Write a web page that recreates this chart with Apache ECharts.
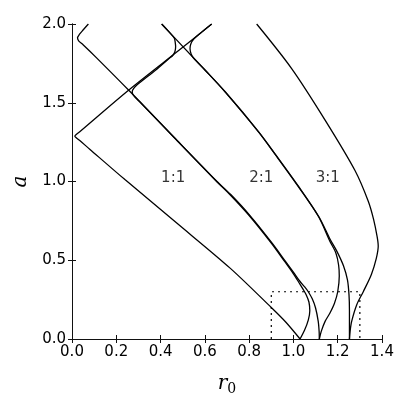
<!DOCTYPE html>
<html>
<head>
<meta charset="utf-8">
<script src="https://cdn.jsdelivr.net/npm/echarts@6/dist/echarts.min.js"></script>
<style>
  html, body { margin: 0; padding: 0; background: #fff; }
  #tongues { width: 409px; height: 409px; }
</style>
</head>
<body>
<div id="tongues"></div>
<script>
  // tongue boundaries, [r0, a]
  let left11 = [[1.030,0],[0.965,0.108],[0.90,0.20],[0.714,0.45],[0.473,0.736],
    [0.239,1.012],[0.08,1.205],[0.035,1.26],[0.018,1.279],[0.013,1.288],[0.018,1.297],[0.035,1.316],
    [0.254,1.578],[0.503,1.855],[0.631,2.0]]
  let right11 = [[1.030,0],[1.050,0.055],[1.067,0.12],[1.074,0.18],[1.070,0.235],[1.058,0.28],[1.044,0.315],
    [1.030,0.347],[1.0,0.414],[0.962,0.489],[0.90,0.609],[0.80,0.784],[0.714,0.916],[0.653,1.0],[0.461,1.279],
    [0.31,1.50],[0.285,1.535],[0.274,1.556],[0.272,1.572],[0.278,1.59],[0.293,1.612],[0.38,1.71],[0.437,1.78],
    [0.455,1.80],[0.465,1.825],[0.468,1.855],[0.466,1.885],[0.462,1.91],[0.44,1.947],[0.405,2.0]]
  let left21 = [[1.117,0],[1.116,0.05],[1.112,0.112],[1.10,0.197],[1.085,0.255],[1.067,0.30],[1.05,0.332],
    [1.03,0.365],[1.003,0.418],[0.965,0.491],[0.903,0.61],[0.803,0.785],[0.717,0.917],[0.655,1.0],
    [0.462,1.279],[0.262,1.571],[0.111,1.785],[0.05,1.868],[0.03,1.893],[0.025,1.912],[0.034,1.935],
    [0.05,1.962],[0.074,2.0]]
  let right21 = [[1.117,0],[1.126,0.05],[1.143,0.112],[1.165,0.165],[1.185,0.225],[1.20,0.30],[1.207,0.40],
    [1.204,0.47],[1.192,0.545],[1.165,0.62],[1.113,0.778],[1.022,0.968],[0.92,1.167],[0.842,1.315],
    [0.691,1.569],[0.60,1.708],[0.551,1.78],[0.538,1.81],[0.533,1.845],[0.537,1.875],[0.55,1.905],
    [0.587,1.95],[0.631,2.0]]
  let left31 = [[1.253,0],[1.253,0.18],[1.251,0.28],[1.244,0.375],[1.226,0.465],[1.197,0.555],[1.165,0.635],
    [1.115,0.776],[1.024,0.967],[0.922,1.166],[0.844,1.314],[0.693,1.568],[0.602,1.706],[0.503,1.853],[0.405,2.0]]
  let right31 = [[1.253,0],[1.256,0.05],[1.263,0.112],[1.286,0.218],[1.316,0.302],[1.352,0.41],[1.374,0.51],
    [1.383,0.59],[1.378,0.65],[1.362,0.76],[1.338,0.875],[1.278,1.07],[1.143,1.39],[0.992,1.717],[0.834,2.0]]

  // zoom box (dotted) and tongue names
  let zoomBox = [[0.9,0],[0.9,0.3],[1.3,0.3],[1.3,0]]
  let tongueNames = ['1:1','2:1','3:1']
  let namePos = [[0.457,1.02],[0.855,1.02],[1.155,1.02]]

  let xTicks = {min:0, max:1.4, interval:0.2}
  let yTicks = {min:0, max:2.0, interval:0.5}

  let chart = echarts.init(document.getElementById('tongues'))
  let tickFont = {fontFamily:'DejaVu Sans', fontSize:15, color:'#000'}
  let frame = {show:true, lineStyle:{color:'#111', width:1}}
  let tick = {show:true, inside:true, length:4, lineStyle:{color:'#111', width:1}}

  let boundary = function (data) {
    return {
      type:'line', data:data, showSymbol:false, symbol:'none', smooth:0.3,
      lineStyle:{color:'#000', width:1.3}, silent:true, z:3
    }
  }

  chart.setOption({
    animation:false,
    grid:{left:72, right:27, top:24, bottom:70},
    xAxis:[{
      type:'value', min:xTicks.min, max:xTicks.max, interval:xTicks.interval,
      axisLine:frame, axisTick:tick, splitLine:{show:false},
      axisLabel:Object.assign({margin:6, formatter:v => v.toFixed(1)}, tickFont),
      name:'{r|r}{s|0}', nameLocation:'middle', nameGap:33,
      nameTextStyle:{rich:{
        r:{fontFamily:'DejaVu Serif', fontStyle:'italic', fontSize:20, color:'#000'},
        s:{fontFamily:'DejaVu Serif', fontSize:14, color:'#000', padding:[10,0,0,0]}
      }}
    },{
      type:'value', position:'top', min:xTicks.min, max:xTicks.max, interval:xTicks.interval,
      axisLine:frame, axisTick:tick, axisLabel:{show:false}, splitLine:{show:false}
    }],
    yAxis:[{
      type:'value', min:yTicks.min, max:yTicks.max, interval:yTicks.interval,
      axisLine:frame, axisTick:tick, splitLine:{show:false},
      axisLabel:Object.assign({margin:6, formatter:v => v.toFixed(1)}, tickFont),
      name:'a', nameLocation:'middle', nameGap:38, nameRotate:90,
      nameTextStyle:{fontFamily:'DejaVu Serif', fontStyle:'italic', fontSize:20, color:'#000'}
    },{
      type:'value', position:'right', min:yTicks.min, max:yTicks.max, interval:yTicks.interval,
      axisLine:frame, axisTick:tick, axisLabel:{show:false}, splitLine:{show:false}
    }],
    series:[
      boundary(left11), boundary(right11),
      boundary(left21), boundary(right21),
      boundary(left31), boundary(right31),
      {
        type:'line', data:zoomBox, showSymbol:false, symbol:'none', silent:true,
        lineStyle:{color:'#000', width:1.2, type:[2,4]}
      },
      {
        type:'scatter', symbolSize:0, silent:true,
        data:namePos.map((p, i) => ({value:p, name:tongueNames[i]})),
        label:{show:true, position:'inside', formatter:'{b}', fontFamily:'DejaVu Sans', fontSize:15, color:'#000'}
      }
    ]
  })
</script>
</body>
</html>
